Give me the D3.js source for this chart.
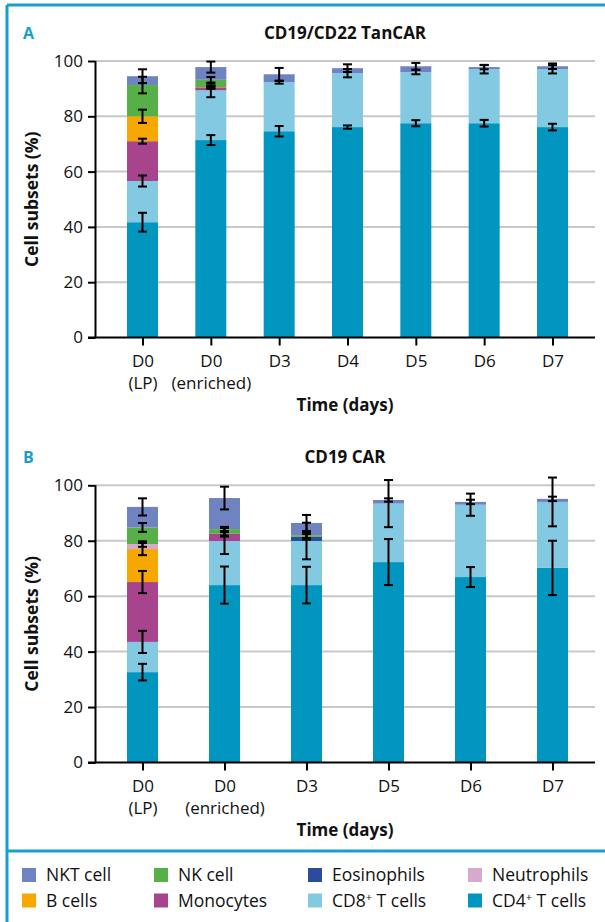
<!DOCTYPE html>
<html><head><meta charset="utf-8">
<script src="https://cdn.jsdelivr.net/npm/d3@7"></script>
<style>
body{margin:0;background:#fff}
svg{display:block}
text{font-family:"Open Sans","Noto Sans",sans-serif;fill:#111}
</style>
</head><body>
<svg id="chart" width="605" height="922"></svg>
<script>
// ---------- DATA ----------
const seriesKeys   = ["CD4","CD8","Mono","B","Neutro","Eos","NK","NKT"];
const seriesColors = ["#0096bf","#84c9e2","#a8448e","#f6a800","#d8a8d0","#2b4b9b","#56b047","#6f83c1"];
const legendOrder  = ["NKT","NK","Eos","Neutro","B","Mono","CD8","CD4"];
const legendLabels = [["NKT cell",""],["NK cell",""],["Eosinophils",""],["Neutrophils",""],
                      ["B cells",""],["Monocytes",""],["CD8"," T cells"],["CD4"," T cells"]];

const yTicks = [0,20,40,60,80,100];

// Panel A: CD19/CD22 TanCAR
const catsA1 = ["D0","D0","D3","D4","D5","D6","D7"];
const catsA2 = ["(LP)","(enriched)","","","","",""];
const A_CD4    = [41.7, 71.4, 74.6, 76.1, 77.5, 77.5, 76.1];
const A_CD8    = [14.9, 18.0, 17.7, 19.5, 18.5, 19.5, 20.9];
const A_Mono   = [14.4,  1.1,  0,    0,    0,    0,    0  ];
const A_B      = [ 9.0,  0.1,  0,    0,    0,    0,    0  ];
const A_Neutro = [ 0,    0,    0,    0,    0,    0,    0  ];
const A_Eos    = [ 0,    0,    0,    0,    0,    0,    0  ];
const A_NK     = [11.3,  2.6,  0,    0,    0,    0,    0  ];
const A_NKT    = [ 3.2,  4.6,  2.9,  1.8,  2.1,  0.8,  1.1];
const A_errCD4    = [3.4, 1.8, 1.9, 0.6, 1.1, 1.2, 1.2];
const A_errCD8    = [2.0, 2.5, 0.5, 1.5, 0.8, 1.5, 1.5];
const A_errMono   = [0.9, 0.5, null, null, null, null, null];
const A_errB      = [2.4, 0.5, null, null, null, null, null];
const A_errNeutro = [null, 0.4, null, null, null, null, null];
const A_errEos    = [null, null, null, null, null, null, null];
const A_errNK     = [3.0, 1.0, null, null, null, null, null];
const A_errNKT    = [2.5, 2.0, 2.3, 1.4, 1.2, 0.8, 1.0];

// Panel B: CD19 CAR
const catsB1 = ["D0","D0","D3","D5","D6","D7"];
const catsB2 = ["(LP)","(enriched)","","","",""];
const B_CD4    = [32.6, 64.0, 64.0, 72.3, 66.9, 70.2];
const B_CD8    = [10.9, 15.9, 15.9, 21.1, 26.1, 23.8];
const B_Mono   = [21.6,  2.6,  0,    0,    0,    0  ];
const B_B      = [11.9,  0,    0,    0,    0,    0  ];
const B_Neutro = [ 1.8,  0,    0,    0,    0,    0  ];
const B_Eos    = [ 0,    0,    1.5,  0,    0,    0  ];
const B_NK     = [ 6.0,  1.7,  0.6,  0,    0,    0  ];
const B_NKT    = [ 7.4, 11.2,  4.4,  1.3,  1.0,  1.1];
const B_errCD4    = [3.0, 6.7, 6.6, 8.3, 3.6, 9.8];
const B_errCD8    = [4.0, 4.7, 6.6, 8.5, 4.0, 8.8];
const B_errMono   = [4.0, 1.0, null, null, null, null];
const B_errB      = [2.2, 0.6, null, null, null, null];
const B_errNeutro = [1.0, null, null, null, null, null];
const B_errEos    = [null, null, 1.0, null, null, null];
const B_errNK     = [1.6, 0.8, 1.0, null, null, null];
const B_errNKT    = [3.1, 4.1, 2.9, 0.6, 0.8, 0.8];

// ---------- DRAW ----------
const svg = d3.select("#chart");
const blue = "#1a9fcb";

// frame
svg.append("line").attr("x1",7).attr("x2",605).attr("y1",5).attr("y2",5).attr("stroke",blue).attr("stroke-width",3);
svg.append("line").attr("x1",7).attr("x2",7).attr("y1",5).attr("y2",922).attr("stroke",blue).attr("stroke-width",3);
svg.append("line").attr("x1",7).attr("x2",605).attr("y1",851).attr("y2",851).attr("stroke",blue).attr("stroke-width",3);

function panel(opt){
  const n = opt.cats1.length;
  const rows = opt.cats1.map((c,j)=>{
    const r = {idx:j};
    seriesKeys.forEach((k,i)=>{ r[k] = opt.vals[i][j]; });
    return r;
  });
  const x = d3.scalePoint().domain(d3.range(n)).range([142.5,552.5]);
  const y = d3.scaleLinear().domain([0,100]).range([opt.y0, opt.y100]);
  const bw = 31;
  const g = svg.append("g");
  const axisX = 95.5, gridEnd = 595;

  // gridlines
  g.selectAll(".grid").data(yTicks.filter(t=>t>0)).enter().append("line")
    .attr("x1",axisX).attr("x2",gridEnd).attr("y1",d=>y(d)).attr("y2",d=>y(d))
    .attr("stroke","#c8c8c8").attr("stroke-width",2);

  // bars
  const stack = d3.stack().keys(seriesKeys)(rows);
  stack.forEach((s,i)=>{
    g.append("g").attr("fill",seriesColors[i]).selectAll("rect").data(s).enter().append("rect")
      .attr("x",(d,j)=>x(j)-bw/2).attr("width",bw)
      .attr("y",d=>y(d[1])).attr("height",d=>Math.max(0,y(d[0])-y(d[1])));
  });

  // error bars
  stack.forEach((s,i)=>{
    s.forEach((d,j)=>{
      const e = opt.errs[i][j];
      if(e==null) return;
      const cx = x(j), top = d[1];
      const eg = g.append("g").attr("stroke","#000").attr("stroke-width",2);
      eg.append("line").attr("x1",cx).attr("x2",cx).attr("y1",y(top-e)).attr("y2",y(top+e));
      [top-e, top+e].forEach(v=>{
        eg.append("line").attr("x1",cx-4.5).attr("x2",cx+4.5).attr("y1",y(v)).attr("y2",y(v));
      });
    });
  });

  // y axis
  const ya = g.append("g").attr("transform",`translate(${axisX},0)`)
    .call(d3.axisLeft(y).tickValues(yTicks).tickSize(7.5).tickPadding(5).tickFormat(d3.format("d")));
  ya.select(".domain").attr("stroke","#000").attr("stroke-width",2).attr("d",`M0,${opt.y0}V${opt.y100}`);
  ya.selectAll(".tick line").attr("stroke","#000").attr("stroke-width",2);
  ya.selectAll(".tick text").style("font-size","17px").attr("fill","#111").style("font-family",'"Open Sans","Noto Sans",sans-serif');

  // x axis
  g.append("line").attr("x1",88).attr("x2",gridEnd).attr("y1",opt.y0).attr("y2",opt.y0)
    .attr("stroke","#000").attr("stroke-width",2);
  const xa = g.append("g").attr("transform",`translate(0,${opt.y0})`)
    .call(d3.axisBottom(x).tickSize(8).tickFormat(""));
  xa.select(".domain").remove();
  xa.selectAll(".tick line").attr("stroke","#000").attr("stroke-width",2);
  xa.selectAll(".tick").each(function(j){
    const t = d3.select(this);
    t.append("text").attr("y",29).attr("text-anchor","middle").style("font-size","17px").text(opt.cats1[j]);
    if(opt.cats2[j]) t.append("text").attr("y",51.5).attr("text-anchor","middle").style("font-size","17px").text(opt.cats2[j]);
  });

  // titles
  g.append("text").attr("x",345).attr("y",opt.titleY).attr("text-anchor","middle")
    .style("font-size","17px").style("font-weight","bold").text(opt.title);
  g.append("text").attr("x",23).attr("y",opt.titleY).style("font-size","16px").style("font-weight","bold")
    .style("fill",blue).text(opt.letter);
  g.append("text").attr("x",345).attr("y",opt.y0+73).attr("text-anchor","middle")
    .style("font-size","17px").style("font-weight","bold").text("Time (days)");
  g.append("text").attr("transform",`translate(38,${(opt.y0+opt.y100)/2}) rotate(-90)`).attr("text-anchor","middle")
    .style("font-size","17.5px").style("font-weight","bold").text("Cell subsets (%)");
}

panel({letter:"A", title:"CD19/CD22 TanCAR", titleY:38.5, y0:337.5, y100:61,
  cats1:catsA1, cats2:catsA2,
  vals:[A_CD4,A_CD8,A_Mono,A_B,A_Neutro,A_Eos,A_NK,A_NKT],
  errs:[A_errCD4,A_errCD8,A_errMono,A_errB,A_errNeutro,A_errEos,A_errNK,A_errNKT]});

panel({letter:"B", title:"CD19 CAR", titleY:463, y0:762.5, y100:485.3,
  cats1:catsB1, cats2:catsB2,
  vals:[B_CD4,B_CD8,B_Mono,B_B,B_Neutro,B_Eos,B_NK,B_NKT],
  errs:[B_errCD4,B_errCD8,B_errMono,B_errB,B_errNeutro,B_errEos,B_errNK,B_errNKT]});

// legend
const legX = [22,154,308,468];
const legY = [875,900.5];
const lg = svg.append("g");
legendOrder.forEach((k,i)=>{
  const col = i%4, row = Math.floor(i/4);
  const ci = seriesKeys.indexOf(k);
  lg.append("rect").attr("x",legX[col]).attr("y",legY[row]-7).attr("width",14).attr("height",14)
    .attr("fill",seriesColors[ci]);
  const t = lg.append("text").attr("x",legX[col]+24).attr("y",legY[row]+6.3).style("font-size","17.5px");
  t.append("tspan").text(legendLabels[i][0]);
  if(legendLabels[i][1]){
    t.append("tspan").attr("dy",-6).style("font-size","11px").text("+");
    t.append("tspan").attr("dy",6).text(legendLabels[i][1]);
  }
});
</script>
</body></html>
